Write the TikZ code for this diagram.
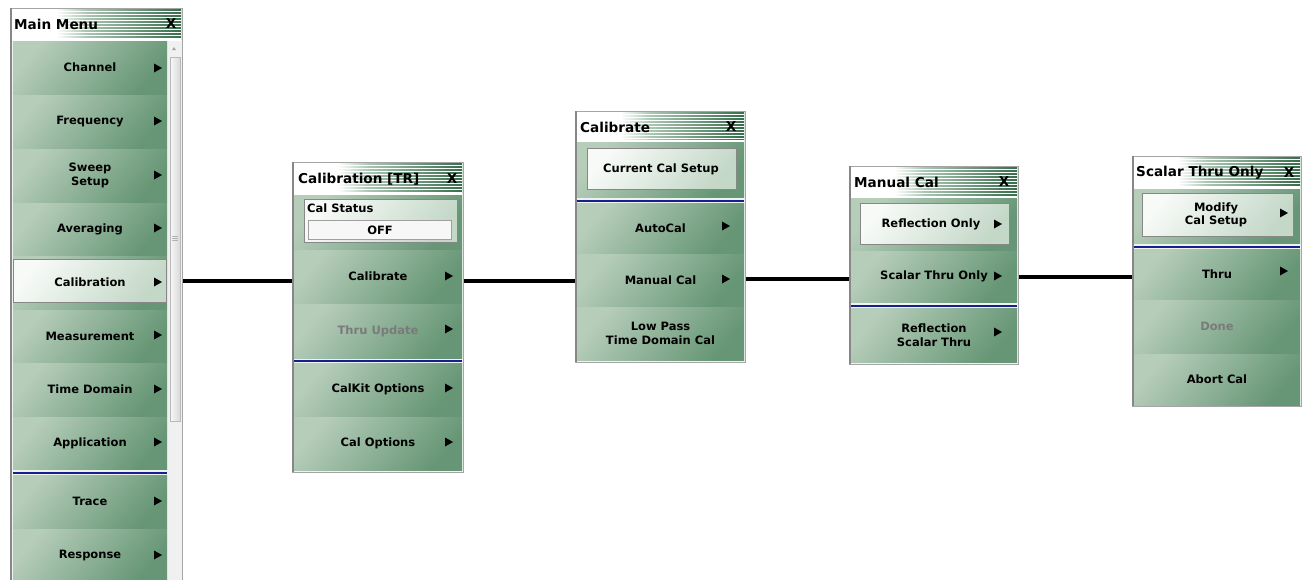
\documentclass[tikz,border=0pt]{standalone}
\usepackage{fontspec}
\setmainfont{DejaVu Sans}
\definecolor{btnL}{RGB}{182,205,186}
\definecolor{btnR}{RGB}{102,150,117}
\definecolor{prL}{RGB}{247,250,247}
\definecolor{prR}{RGB}{196,216,200}
\definecolor{ttlG}{RGB}{55,108,75}
\definecolor{ttlL}{RGB}{170,198,178}
\definecolor{sepW}{RGB}{238,243,239}
\definecolor{sepB}{RGB}{22,32,140}
\definecolor{frameG}{RGB}{165,165,165}
\definecolor{frameD}{RGB}{135,135,135}
\definecolor{greyTxt}{RGB}{122,122,122}
\pgfdeclarehorizontalshading{titlebar}{100bp}{color(0bp)=(white); color(38bp)=(white); color(47bp)=(ttlL); color(75bp)=(ttlG); color(100bp)=(ttlG)}
\tikzset{
  row/.style={top color=btnL, bottom color=btnR, shading angle=50},
  pressed/.style={draw=frameD, line width=0.8pt, top color=prL, bottom color=prR, shading angle=50},
  panelframe/.style={draw=frameG, line width=1pt, fill=sepW, inner sep=0pt, anchor=north west},
  btxt/.style={font=\bfseries\fontsize{11.5}{13.5}\selectfont, align=center, inner sep=0pt},
  ttl/.style={font=\bfseries\fontsize{13.6}{16}\selectfont, inner sep=0pt},
  conn/.style={line width=3.6pt, black},
  stripe/.style={white, line width=1pt},
}
\newcommand\mrow[6]{\path[row] (#1,#3) rectangle (#2,#4); \node[btxt] (#5) at ({(#1+#2)/2},{(#3+#4)/2}) {#6};}
\newcommand\marr[2]{\fill[black] ({#1-4},{#2-4.5}) -- ({#1+4},{#2}) -- ({#1-4},{#2+4.5}) -- cycle;}
\newcommand\tbar[4]{\path[shading=titlebar] (#1,#3) rectangle (#2,#4);
  \foreach \yy in {#3,...,#4} {\pgfmathparse{mod(\yy-#3,3)==2}\ifnum\pgfmathresult>0 \draw[stripe] (#1,\yy) -- (#2,\yy);\fi}
  \draw[white, line width=1.5pt] (#1,#4+0.75) -- (#2,#4+0.75);}
\begin{document}
\begin{tikzpicture}[x=1pt,y=-1pt]
\useasboundingbox (0,0) rectangle (1302,579);
\fill[white] (0,0) rectangle (1302,579);

% ================= Main Menu =================
\node[panelframe, minimum width=172pt, minimum height=575pt] (mmF) at (10,8) {};
\draw[frameD, line width=2pt] (11,8) -- (11,581);
\tbar{12}{181}{9}{39}
\node[ttl, anchor=west] (mmT) at (14,24) {Main Menu};
\node[ttl] (mmX) at (171,24) {X};
\fill[gray!12] (167,41) rectangle (181,581);
\draw[gray!55, left color=gray!5, right color=gray!30] (170,57) rectangle (180,421);
\fill[gray!70] (172,50) -- (176,50) -- (174,47) -- cycle;
\foreach \g in {236,238,240} \draw[gray!60, line width=0.5pt] (172,\g) -- (178,\g);
\mrow{13}{167}{41}{94}{mmCh}{Channel}
\mrow{13}{167}{95}{148}{mmFr}{Frequency}
\mrow{13}{167}{149}{202}{mmSw}{Sweep\\Setup}
\mrow{13}{167}{203}{255}{mmAv}{Averaging}
\path[row] (13,256) rectangle (167,309);
\path[pressed] (13.5,259) rectangle (166.5,302);
\node[btxt] (mmCal) at (90,282) {Calibration};
\mrow{13}{167}{310}{362}{mmMe}{Measurement}
\mrow{13}{167}{363}{416}{mmTD}{Time Domain}
\mrow{13}{167}{417}{469}{mmAp}{Application}
\draw[sepB, line width=1.6pt] (13,473) -- (167,473);
\mrow{13}{167}{475}{528}{mmTr}{Trace}
\mrow{13}{167}{529}{581}{mmRe}{Response}
\foreach \yc in {68,121,175,228,282,335,389,442,501,555} {\marr{158}{\yc}}

% ================= Calibration [TR] =================
\node[panelframe, minimum width=171pt, minimum height=310pt] (ctrF) at (292,162) {};
\draw[frameD, line width=2pt] (293,162) -- (293,472);
\tbar{294}{462}{163}{193}
\node[ttl, anchor=west] (ctrT) at (298,179) {Calibration [TR]};
\node[ttl] (ctrX) at (452,179) {X};
\path[row] (294,195) rectangle (462,249);
\path[pressed] (304,199) rectangle (457,242);
\node[btxt, anchor=west] (ctrS) at (307,208) {Cal Status};
\draw[gray!75, fill=gray!6, line width=0.8pt] (308,220) rectangle (451,239);
\node[btxt] (ctrOff) at (380,230) {OFF};
\mrow{294}{462}{250}{303}{ctrCal}{Calibrate}
\mrow{294}{462}{304}{358}{ctrTU}{\textcolor{greyTxt}{Thru Update}}
\draw[sepB, line width=1.6pt] (294,361) -- (462,361);
\mrow{294}{462}{363}{416}{ctrCK}{CalKit Options}
\mrow{294}{462}{417}{470}{ctrCO}{Cal Options}
\foreach \yc in {276,329,388,442} {\marr{449}{\yc}}

% ================= Calibrate =================
\node[panelframe, minimum width=170pt, minimum height=251pt] (cbF) at (575,111) {};
\draw[frameD, line width=2pt] (576,111) -- (576,362);
\tbar{577}{744}{112}{140}
\node[ttl, anchor=west] (cbT) at (580,127) {Calibrate};
\node[ttl] (cbX) at (731,127) {X};
\path[row] (577,142) rectangle (744,197);
\path[pressed] (587,148) rectangle (736,189);
\node[btxt] (cbCur) at (661,169) {Current Cal Setup};
\draw[sepB, line width=1.6pt] (577,201) -- (744,201);
\mrow{577}{744}{203}{253}{cbAuto}{AutoCal}
\mrow{577}{744}{254}{306}{cbMan}{Manual Cal}
\mrow{577}{744}{307}{360}{cbLP}{Low Pass\\Time Domain Cal}
\foreach \yc in {226,279} {\marr{726}{\yc}}

% ================= Manual Cal =================
\node[panelframe, minimum width=169pt, minimum height=198pt] (mcF) at (849,166) {};
\draw[frameD, line width=2pt] (850,166) -- (850,364);
\tbar{851}{1017}{167}{196}
\node[ttl, anchor=west] (mcT) at (854,182) {Manual Cal};
\node[ttl] (mcX) at (1004,182) {X};
\path[row] (851,198) rectangle (1017,250);
\path[pressed] (860,203) rectangle (1009,244);
\node[btxt] (mcRO) at (931,224) {Reflection Only};
\mrow{851}{1017}{251}{302}{mcST}{Scalar Thru Only}
\draw[sepB, line width=1.6pt] (851,306) -- (1017,306);
\mrow{851}{1017}{308}{362}{mcRS}{Reflection\\Scalar Thru}
\foreach \yc in {224,276,332} {\marr{998}{\yc}}

% ================= Scalar Thru Only =================
\node[panelframe, minimum width=169pt, minimum height=250pt] (stF) at (1132,156) {};
\draw[frameD, line width=2pt] (1133,156) -- (1133,406);
\tbar{1134}{1300}{157}{187}
\node[ttl, anchor=west] (stT) at (1136,173) {Scalar Thru Only};
\node[ttl] (stX) at (1289,173) {X};
\path[row] (1134,189) rectangle (1300,243);
\path[pressed] (1142,193) rectangle (1293,236);
\node[btxt] (stMod) at (1216,215) {Modify\\Cal Setup};
\draw[sepB, line width=1.6pt] (1134,247) -- (1300,247);
\mrow{1134}{1300}{249}{299}{stThru}{Thru}
\mrow{1134}{1300}{300}{353}{stDone}{\textcolor{greyTxt}{Done}}
\mrow{1134}{1300}{354}{405}{stAb}{Abort Cal}
\foreach \yc in {213,271} {\marr{1284}{\yc}}

% ================= Connectors =================
\coordinate (j1) at (0,281);
\coordinate (j2) at (0,281);
\coordinate (j3) at (0,279);
\coordinate (j4) at (0,277);
\draw[conn] (mmF.east |- j1) -- (ctrF.west |- j1);
\draw[conn] (ctrF.east |- j2) -- (cbF.west |- j2);
\draw[conn] (cbF.east |- j3) -- (mcF.west |- j3);
\draw[conn] (mcF.east |- j4) -- (stF.west |- j4);
\end{tikzpicture}
\end{document}
